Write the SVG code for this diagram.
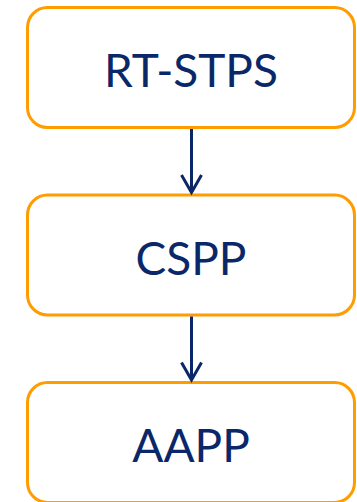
<svg xmlns="http://www.w3.org/2000/svg" width="357" height="502" viewBox="0 0 357 502">
<style>
.box{fill:#fff;stroke:#FF9C00;stroke-width:3}
.lbl{font-family:Lato,"Liberation Sans",sans-serif;font-size:46px;fill:#0A2869;text-anchor:middle}
.conn{stroke:#0A2869;stroke-width:3;fill:none}
</style>
<rect width="357" height="502" fill="#fff"/>
<g id="node-rtstps"><rect class="box" x="27.5" y="7.5" width="327" height="120" rx="20"/><text class="lbl" x="191" y="87">RT-STPS</text></g>
<g id="node-cspp"><rect class="box" x="27.5" y="195" width="327" height="120" rx="20"/><text class="lbl" x="191" y="274.5">CSPP</text></g>
<g id="node-aapp"><rect class="box" x="27.5" y="382.5" width="327" height="120" rx="20"/><text class="lbl" x="191" y="462">AAPP</text></g>
<g id="connectors">
<path class="conn" d="M191.5 129V193M181.5 175L191.5 192.5L201.5 175"/>
<path class="conn" d="M191.5 316.5V380.5M181.5 362.5L191.5 380L201.5 362.5"/>
</g>
</svg>
